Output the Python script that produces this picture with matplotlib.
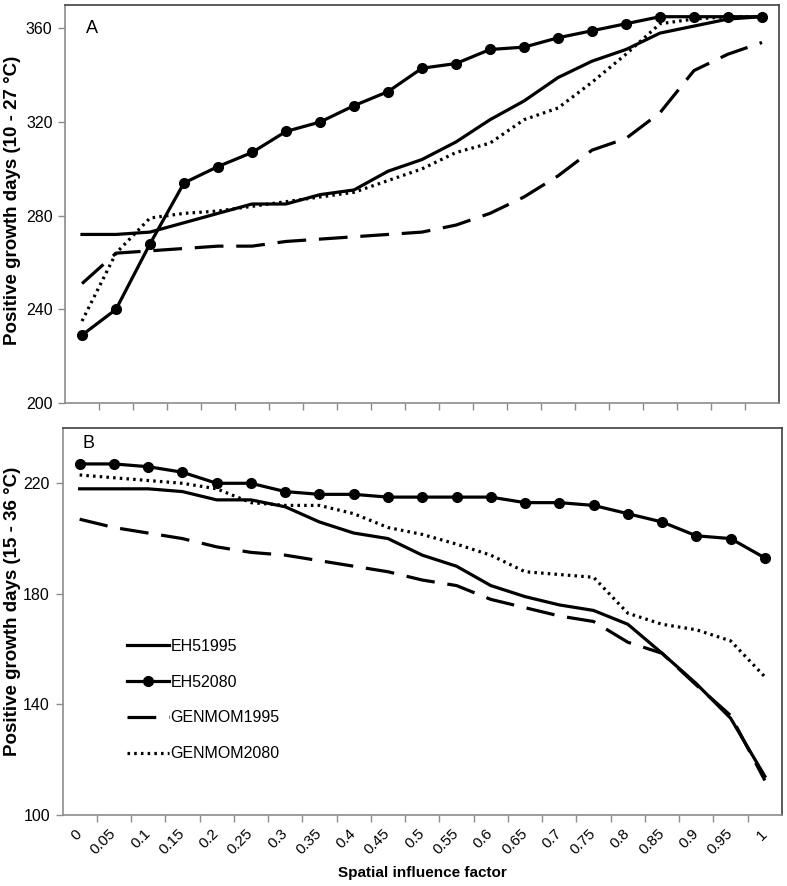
import matplotlib
matplotlib.use("Agg")

import matplotlib.pyplot as plt

# FONTS
plt.rcParams["font.family"] = ["Liberation Sans", "DejaVu Sans"]

# DATA
factor_labels = [
    "0", "0.05", "0.1", "0.15", "0.2", "0.25", "0.3", "0.35", "0.4", "0.45",
    "0.5", "0.55", "0.6", "0.65", "0.7", "0.75", "0.8", "0.85", "0.9",
    "0.95", "1"
]

series_names = ["EH51995", "EH52080", "GENMOM1995", "GENMOM2080"]

# PANEL A (10 - 27 C)
eh5_1995_a = [272, 272, 273, 277, 281, 285, 285, 289, 291, 299, 304,
              311.5, 321, 329, 339, 346, 351, 358, 361, 364, 365]
eh5_2080_a = [229, 240, 268, 294, 301, 307, 316, 320, 327, 333, 343,
              345, 351, 352, 356, 359, 362, 365, 365, 365, 365]
genmom_1995_a = [251, 264, 265, 266, 267, 267, 269, 270, 271, 272, 273,
                 276, 281, 288, 297, 308, 313, 324, 342, 349, 354]
genmom_2080_a = [235, 264, 279, 281, 282, 284, 286, 288, 290, 295, 300,
                 307, 311, 321, 326, 337, 349, 362, 364, 365, 365]

# PANEL B (15 - 36 C)
eh5_1995_b = [218, 218, 218, 217, 214, 214, 211.5, 206, 202, 200, 194,
              190, 183, 179, 176, 174, 169, 158.5, 147.5, 135, 114]
eh5_2080_b = [227, 227, 226, 224, 220, 220, 217, 216, 216, 215, 215,
              215, 215, 213, 213, 212, 209, 206, 201, 200, 193]
genmom_1995_b = [207, 204, 202, 200, 197, 195, 194, 192, 190, 188, 185,
                 183, 178, 175, 172, 170, 162.5, 158.5, 147, 136, 112.5]
genmom_2080_b = [223, 222, 221, 220, 218, 213, 212, 212, 209, 204, 201.5,
                 198, 194, 188, 187, 186, 173, 169, 167, 163, 150]

x_pos = list(range(len(factor_labels)))

# LINE STYLES
styles = [
    dict(color="black", lw=2.3, linestyle="-"),
    dict(color="black", lw=2.3, linestyle="-", marker="o", markersize=7),
    dict(color="black", lw=2.3, linestyle=(0, (9, 4))),
    dict(color="black", lw=2.3, linestyle=(0, (0.8, 1.3))),
]

# CREATE FIGURE
fig = plt.figure(figsize=(7.87, 8.86), dpi=100)

ax_a = fig.add_axes([65 / 787, 1 - 403 / 886, 714 / 787, 398 / 886])
ax_b = fig.add_axes([62.5 / 787, 1 - 815 / 886, 719.5 / 787, 387 / 886])


def style_axes(ax, ylim, yticks, ylabel, label_xy):

    ax.set_xlim(-0.5, len(factor_labels) - 0.5)
    ax.set_ylim(*ylim)
    ax.set_yticks(yticks)

    # tick marks between categories
    ax.set_xticks([i + 0.5 for i in range(len(factor_labels) - 1)])
    ax.set_xticklabels([])
    ax.tick_params(axis="both", direction="out", length=5,
                   color="#8c8c8c", width=1, labelsize=11.5)
    ax.tick_params(axis="y", pad=4)

    ax.spines["left"].set_color("#8c8c8c")
    ax.spines["bottom"].set_color("#8c8c8c")
    ax.spines["top"].set_color("#404040")
    ax.spines["right"].set_color("#404040")
    for side in ax.spines:
        ax.spines[side].set_linewidth(1.2)

    ax.set_ylabel(ylabel, fontsize=13.5, fontweight="bold")
    ax.yaxis.set_label_coords(*label_xy)


# PANEL A
for values, name, st in zip(
        [eh5_1995_a, eh5_2080_a, genmom_1995_a, genmom_2080_a],
        series_names, styles):
    ax_a.plot(x_pos, values, label=name, **st)

style_axes(ax_a, (200, 370), [200, 240, 280, 320, 360],
           "Positive growth days (10 - 27 \u00b0C)", (-0.062, 0.51))

ax_a.text(0.029, 0.941, "A", transform=ax_a.transAxes,
          fontsize=13, va="center", ha="left")

# PANEL B
for values, name, st in zip(
        [eh5_1995_b, eh5_2080_b, genmom_1995_b, genmom_2080_b],
        series_names, styles):
    ax_b.plot(x_pos, values, label=name, **st)

style_axes(ax_b, (100, 240), [100, 140, 180, 220],
           "Positive growth days (15 - 36 \u00b0C)", (-0.058, 0.527))

ax_b.text(0.028, 0.959, "B", transform=ax_b.transAxes,
          fontsize=13, va="center", ha="left")

# CATEGORY LABELS
ax_b.set_xticks(x_pos, minor=True)
ax_b.set_xticklabels(factor_labels, minor=True, rotation=45,
                     ha="right", va="center", rotation_mode="anchor",
                     fontsize=11)
ax_b.tick_params(axis="x", which="minor", length=0, pad=12)

ax_b.set_xlabel("Spatial influence factor", fontsize=11,
                fontweight="bold", labelpad=6)

# LEGEND
ax_b.legend(loc="upper left", bbox_to_anchor=(0.09, 0.455),
            frameon=False, fontsize=11.5, handlelength=2.6,
            handletextpad=0.1, labelspacing=1.3, borderpad=0,
            borderaxespad=0, numpoints=1)

fig.savefig("out.png", dpi=100)
